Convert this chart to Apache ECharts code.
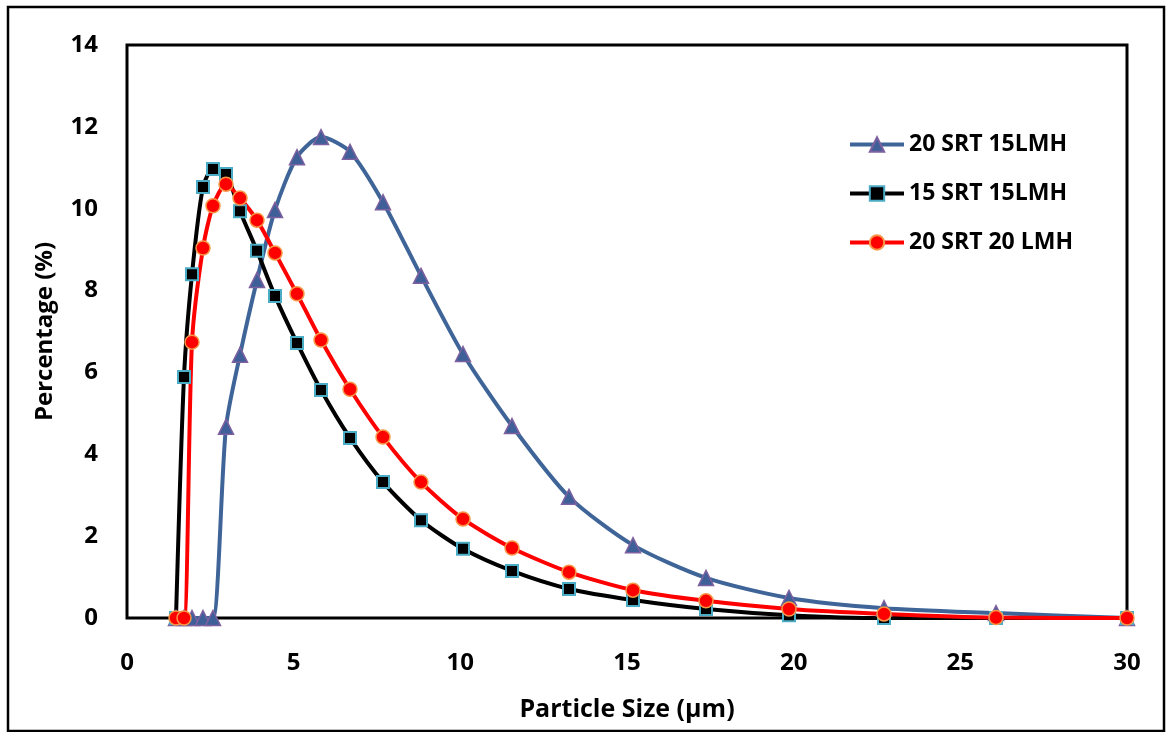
<!DOCTYPE html>
<html>
<head>
<meta charset="utf-8">
<script src="https://cdn.jsdelivr.net/npm/echarts@6/dist/echarts.min.js"></script>
<style>
  html, body { margin: 0; padding: 0; background: #fff; }
  #chart { width: 1170px; height: 732px; }
</style>
</head>
<body>
<div id="chart"></div>
<script>
// Particle size bins (µm)
const sizes = [1.47, 1.71, 1.95, 2.28, 2.58, 2.97, 3.39, 3.9, 4.44, 5.1, 5.82, 6.69, 7.68, 8.82, 10.08, 11.55, 13.26, 15.18, 17.37, 19.86, 22.71, 26.07, 30];

// Percentage per bin
const srt20lmh15 = [0, 0, 0, 0, 0, 4.67, 6.43, 8.26, 9.97, 11.26, 11.75, 11.39, 10.16, 8.36, 6.45, 4.69, 2.96, 1.78, 0.98, 0.49, 0.24, 0.12, 0];
const srt15lmh15 = [0, 5.89, 8.4, 10.53, 10.97, 10.85, 9.94, 8.97, 7.87, 6.72, 5.57, 4.4, 3.32, 2.39, 1.69, 1.15, 0.71, 0.44, 0.22, 0.07, 0, 0, 0];
const srt20lmh20 = [0, 0, 6.74, 9.04, 10.07, 10.6, 10.26, 9.72, 8.92, 7.92, 6.79, 5.59, 4.42, 3.32, 2.42, 1.71, 1.12, 0.68, 0.42, 0.22, 0.1, 0.01, 0];

const seriesNames = ["20 SRT 15LMH", "15 SRT 15LMH", "20 SRT 20 LMH"];

const FONT = "'Open Sans', 'Noto Sans', sans-serif";

function pairs(vals) {
  return sizes.map((s, i) => [s, vals[i]]);
}

const chart = echarts.init(document.getElementById("chart"), null, { renderer: "canvas" });

const option = {
  backgroundColor: "#fff",
  animation: false,
  graphic: [{
    type: "rect",
    shape: { x: 8, y: 7, width: 1156, height: 724 },
    style: { fill: "none", stroke: "#000", lineWidth: 2.5 },
    z: 100
  }],
  grid: {
    left: 127, top: 45, right: 43, bottom: 114,
    show: true, borderColor: "#000", borderWidth: 3, backgroundColor: "transparent"
  },
  legend: {
    orient: "vertical",
    left: 843, top: 128,
    itemWidth: 54, itemHeight: 18,
    itemGap: 26,
    lineStyle: { width: 4 },
    textStyle: { fontFamily: FONT, fontSize: 23, fontWeight: "bold", color: "#000" },
    data: seriesNames
  },
  xAxis: {
    type: "value",
    min: 0, max: 30, interval: 5,
    name: "Particle Size (µm)",
    nameLocation: "middle",
    nameGap: 79,
    nameTextStyle: { fontFamily: FONT, fontSize: 25, fontWeight: "bold", color: "#000" },
    axisLine: { show: false },
    axisTick: { show: false },
    splitLine: { show: false },
    axisLabel: { margin: 33, fontFamily: FONT, fontSize: 24, fontWeight: "bold", color: "#000" }
  },
  yAxis: {
    type: "value",
    min: 0, max: 14, interval: 2,
    name: "Percentage (%)",
    nameLocation: "middle",
    nameGap: 70,
    nameTextStyle: { fontFamily: FONT, fontSize: 24, fontWeight: "bold", color: "#000" },
    axisLine: { show: false },
    axisTick: { show: false },
    splitLine: { show: false },
    axisLabel: { margin: 29, fontFamily: FONT, fontSize: 24, fontWeight: "bold", color: "#000" }
  },
  series: [
    {
      name: seriesNames[0], type: "line", smooth: 0.25,
      data: pairs(srt20lmh15),
      symbol: "triangle", symbolSize: 15,
      lineStyle: { color: "#3E6498", width: 4 },
      itemStyle: { color: "#3E5F98", borderColor: "#7D60A0", borderWidth: 1.5 }
    },
    {
      name: seriesNames[1], type: "line", smooth: 0.25,
      data: pairs(srt15lmh15),
      symbol: "rect", symbolSize: 12,
      lineStyle: { color: "#000", width: 4 },
      itemStyle: { color: "#000", borderColor: "#4BACC6", borderWidth: 2 }
    },
    {
      name: seriesNames[2], type: "line", smooth: 0.25,
      data: pairs(srt20lmh20),
      symbol: "circle", symbolSize: 14,
      lineStyle: { color: "#FF0000", width: 4 },
      itemStyle: { color: "#FF0000", borderColor: "#F79646", borderWidth: 1.5 }
    }
  ]
};

chart.setOption(option);
window.addEventListener("resize", () => chart.resize());
</script>
</body>
</html>
